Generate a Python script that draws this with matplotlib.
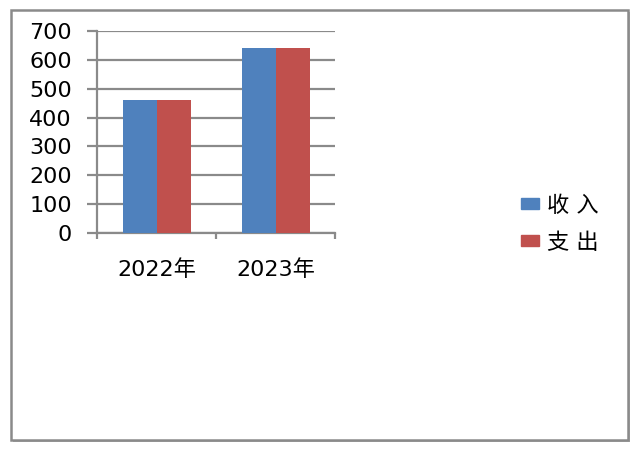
import matplotlib
matplotlib.use("Agg")
import matplotlib.pyplot as plt
import numpy as np
from matplotlib.patches import Rectangle, Patch

plt.rcParams['font.family'] = ['DejaVu Sans', 'Noto Sans CJK SC']

categories = ['2022年', '2023年']
series_names = ['收入', '支出']
income = [460, 640]
expense = [460, 640]
yticks = [0, 100, 200, 300, 400, 500, 600, 700]
colors = ['#4F81BD', '#C0504D']

W, H = 640, 450
fig = plt.figure(figsize=(6.4, 4.5), dpi=100)

# outer frame with shadow
fig.patches.append(Rectangle((13/W, 1-442/H), 617/W, 430/H, transform=fig.transFigure,
                             facecolor='#b0b0b0', edgecolor='none', zorder=-3))
fig.patches.append(Rectangle((11/W, 1-440/H), 617/W, 430/H, transform=fig.transFigure,
                             facecolor='white', edgecolor='#8a8a8a', linewidth=1.8, zorder=-2))

ax = fig.add_axes([97/W, 1-233/H, (335-97)/W, (233-31)/H])
ax.set_facecolor('none')
x = np.arange(len(categories))
bw = 1/3.5
ax.bar(x - bw/2, income, bw, color=colors[0], zorder=3, label=series_names[0])
ax.bar(x + bw/2, expense, bw, color=colors[1], zorder=3, label=series_names[1])

ax.set_xlim(-0.5, len(categories) - 0.5)
ax.set_ylim(0, 700)
ax.set_yticks(yticks)
ax.set_yticklabels([str(v) for v in yticks], fontsize=16)
ax.yaxis.grid(True, color='#8a8a8a', linewidth=1.6, zorder=0)
ax.set_axisbelow(True)

ax.set_xticks([-0.5, 0.5, 1.5])
ax.set_xticklabels([])
ax.set_xticks(x, minor=True)
ax.set_xticklabels(categories, minor=True, fontsize=16)
ax.tick_params(axis='x', which='minor', length=0, pad=19)
ax.tick_params(axis='x', which='major', length=4, width=1.6, color='#8a8a8a')
ax.tick_params(axis='y', length=7, width=1.6, color='#8a8a8a', pad=11)

for s in ['top', 'right']:
    ax.spines[s].set_visible(False)
for s in ['left', 'bottom']:
    ax.spines[s].set_color('#8a8a8a')
    ax.spines[s].set_linewidth(1.6)

handles = [Patch(color=colors[0], label='收 入'), Patch(color=colors[1], label='支 出')]
fig.legend(handles=handles, loc='center left', bbox_to_anchor=(521/W, 1-224/H),
           frameon=False, fontsize=16, borderpad=0, borderaxespad=0,
           handlelength=0.8, handleheight=0.4, handletextpad=0.35, labelspacing=0.75)

fig.savefig('out.png', dpi=100)
